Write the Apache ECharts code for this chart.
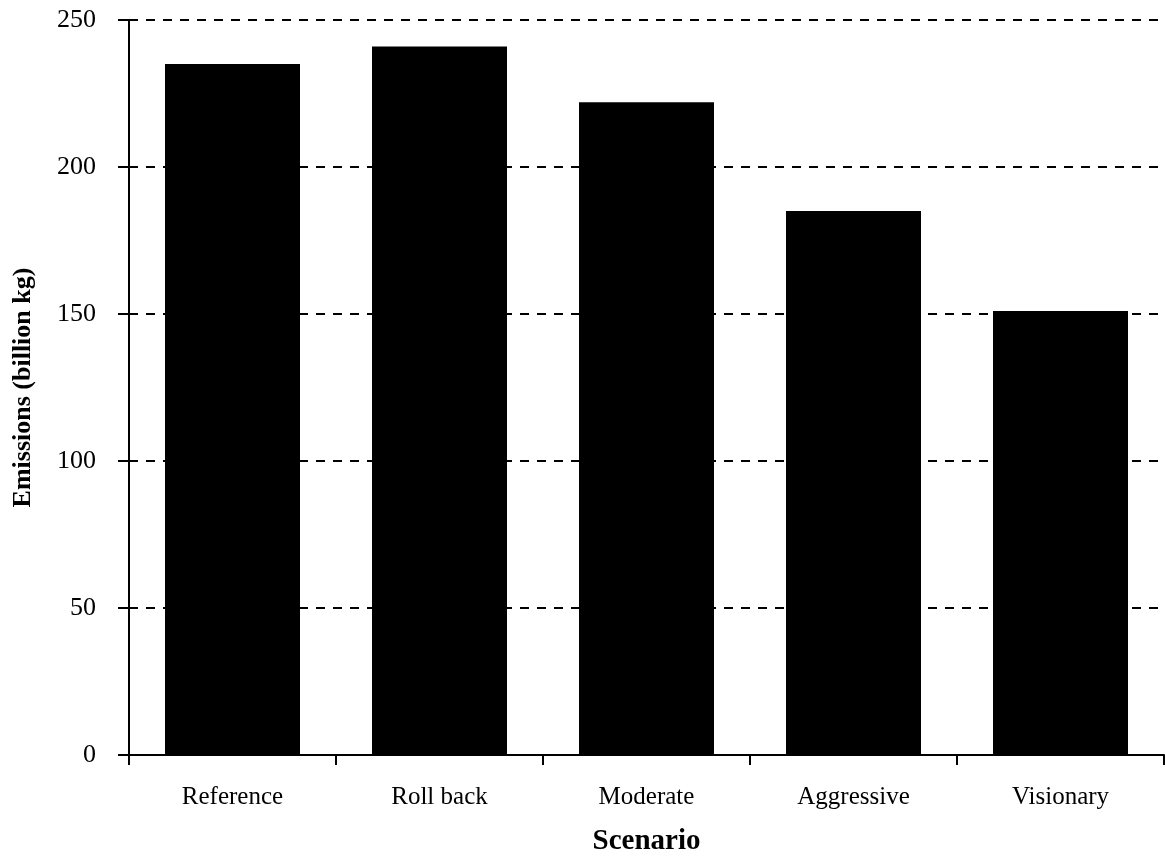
<!DOCTYPE html>
<html>
<head>
<meta charset="utf-8">
<script src="https://cdn.jsdelivr.net/npm/echarts@6/dist/echarts.min.js"></script>
<style>html,body{margin:0;padding:0;background:#fff}#c{width:1165px;height:861px}</style>
</head>
<body>
<div id="c"></div>
<script>
const categories = ["Reference", "Roll back", "Moderate", "Aggressive", "Visionary"];
const emissions = [235, 241, 222, 185, 151];
const yTicks = [0, 50, 100, 150, 200, 250];

const chart = echarts.init(document.getElementById('c'));
const serif = '"Liberation Serif", "DejaVu Serif", serif';
chart.setOption({
  backgroundColor: '#fff',
  animation: false,
  grid: { left: 129, right: 1, top: 20, bottom: 103, containLabel: false },
  xAxis: {
    type: 'category',
    data: categories,
    name: 'Scenario',
    nameLocation: 'middle',
    nameGap: 72,
    nameTextStyle: { fontFamily: serif, fontSize: 29, fontWeight: 'bold', color: '#000' },
    axisLine: { lineStyle: { color: '#000', width: 2 } },
    axisTick: { show: true, length: 10, lineStyle: { color: '#000', width: 2 } },
    axisLabel: { fontFamily: serif, fontSize: 25, color: '#000', margin: 30 },
    splitLine: { show: false }
  },
  yAxis: {
    type: 'value',
    min: yTicks[0],
    max: yTicks[yTicks.length - 1],
    interval: yTicks[1] - yTicks[0],
    name: 'Emissions (billion kg)',
    nameLocation: 'middle',
    nameGap: 93,
    nameTextStyle: { fontFamily: serif, fontSize: 26, fontWeight: 'bold', color: '#000' },
    axisLine: { show: true, lineStyle: { color: '#000', width: 2 } },
    axisTick: { show: true, length: 11, lineStyle: { color: '#000', width: 2 } },
    axisLabel: { fontFamily: serif, fontSize: 26, color: '#000', margin: 33 },
    splitLine: { show: true, lineStyle: { color: '#000', width: 2, type: [9, 8] } }
  },
  series: [{
    type: 'bar',
    data: emissions,
    barWidth: 135,
    itemStyle: { color: '#000' }
  }]
});
</script>
</body>
</html>
